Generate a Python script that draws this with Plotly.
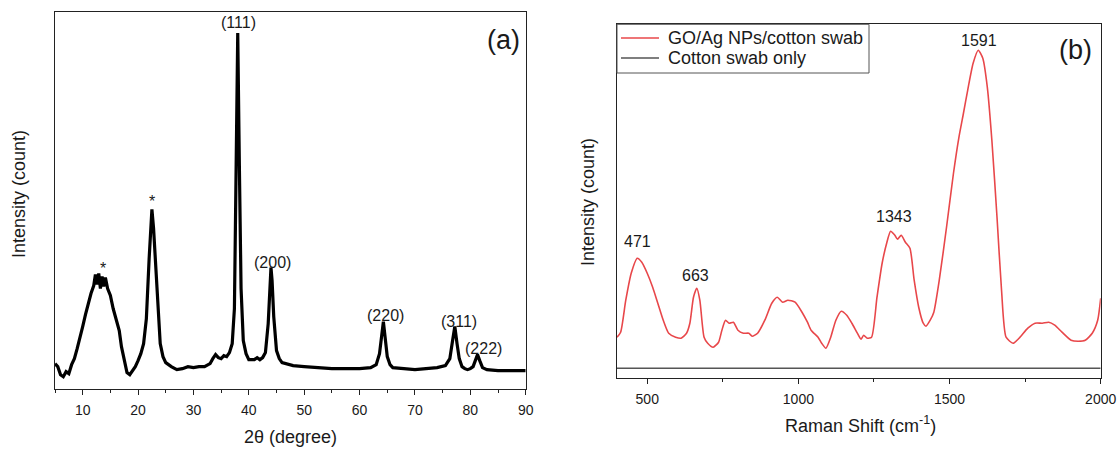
import plotly.graph_objects as go

W, H = 1117, 449

# ---------------- XRD data (panel a) ----------------
xrd_2theta = [5, 5.5, 6, 6.5, 7, 7.5, 8, 8.5, 9, 9.5, 10, 10.5, 11, 11.5, 12, 12.3, 12.6, 12.9, 13.2,
              13.5, 13.8, 14.1, 14.5, 15, 15.5, 16, 16.3, 16.6, 17, 17.5, 18, 18.5, 19, 19.5, 20,
              20.5, 21, 21.5, 22, 22.3, 22.5, 22.8, 23, 23.5, 24, 24.5, 25, 26, 27, 28, 29, 30, 31,
              32, 33, 33.5, 34, 34.5, 35, 35.5, 36, 36.5, 37, 37.4, 37.7, 38, 38.3, 38.6, 39, 39.5,
              40, 41, 41.5, 42, 42.5, 43, 43.5, 43.8, 44, 44.2, 44.5, 45, 45.5, 46, 48, 50, 52, 55,
              58, 60, 62, 63, 63.6, 64, 64.3, 64.6, 65, 65.5, 66, 68, 70, 72, 74, 75.5, 76.3, 76.8,
              77.2, 77.6, 78, 78.5, 79, 79.5, 80, 80.5, 81, 81.3, 81.7, 82.2, 83, 85, 87, 90]
xrd_intensity = [25, 22, 14, 12, 17, 15, 24, 30, 40, 50, 62, 74, 86, 95, 103, 114, 104, 115, 100,
                 112, 102, 111, 100, 93, 80, 70, 66, 58, 42, 28, 16, 14, 18, 22, 28,
                 35, 45, 70, 130, 168, 179, 160, 140, 85, 45, 32, 26, 22, 19, 20, 22, 21, 22,
                 22, 25, 30, 34, 31, 30, 33, 32, 36, 45, 80, 200, 355, 220, 100, 48, 35,
                 29, 29, 31, 29, 31, 36, 65, 105, 121, 108, 72, 38, 30, 26, 23, 22, 21, 20,
                 20, 20, 21, 24, 35, 55, 67, 52, 32, 24, 21, 20, 19, 20, 21, 23, 30, 48,
                 62, 45, 30, 22, 20, 19, 20, 22, 30, 34, 28, 21, 19, 18, 18, 18]

xrd_label_text = ["*", "*", "(111)", "(200)", "(220)", "(311)", "(222)"]
xrd_label_x = [13.7, 22.6, 38.2, 44.2, 64.7, 78.0, 82.4]
xrd_label_y = [120, 187, 366, 126, 73, 67, 40]

# ---------------- Raman data (panel b) ----------------
raman_shift = [400, 412, 429, 447, 467, 482, 500, 518, 535, 553, 571, 594, 612, 630, 641, 653, 664,
               674, 688, 700, 718, 736, 747, 759, 771, 785, 800, 818, 836, 847, 865, 889, 912, 930,
               948, 965, 989, 1012, 1030, 1042, 1065, 1077, 1091, 1107, 1124, 1142, 1160, 1177,
               1195, 1207, 1216, 1228, 1242, 1260, 1277, 1292, 1305, 1319, 1328, 1340, 1354, 1369,
               1383, 1398, 1413, 1422, 1436, 1448, 1466, 1490, 1513, 1531, 1546, 1560, 1578, 1595,
               1610, 1625, 1640, 1657, 1672, 1687, 1710, 1730, 1759, 1783, 1807, 1828, 1848, 1872,
               1902, 1925, 1949, 1972, 1990, 2000]
raman_go_ag = [41, 46, 78, 105, 120, 116, 105, 91, 75, 58, 45, 41, 40, 45, 55, 81, 90,
               78, 41, 35, 31, 36, 48, 58, 55, 56, 48, 45, 45, 42, 45, 58, 75, 81,
               76, 78, 76, 66, 56, 48, 41, 35, 30, 41, 58, 67, 63, 55,
               45, 39, 43, 40, 41, 81, 115, 135, 147, 143, 139, 143, 136, 130,
               98, 71, 55, 52, 58, 66, 98, 151, 205, 241, 265, 288, 315, 328,
               320, 291, 238, 161, 88, 41, 35, 40, 50, 55, 55, 56, 53, 46,
               38, 37, 38, 45, 58, 80]

cotton_shift = [400, 700, 1000, 1300, 1600, 2000]
cotton_only = [10, 10, 10, 10.5, 10, 10]

raman_label_text = ["471", "663", "1343", "1591"]
raman_label_x = [467, 659, 1316, 1597]
raman_label_y = [137, 103, 162, 338]

series_names = ["GO/Ag NPs/cotton swab", "Cotton swab only"]
series_colors = ["#e8474a", "#555555"]

FONT = "Liberation Sans, Arial, sans-serif"
TXT = "#1a1a1a"

fig = go.Figure()
fig.add_trace(go.Scatter(x=xrd_2theta, y=xrd_intensity, mode="lines",
                         line=dict(color="black", width=3.2), showlegend=False,
                         xaxis="x", yaxis="y"))
fig.add_trace(go.Scatter(x=raman_shift, y=raman_go_ag, mode="lines", name=series_names[0],
                         line=dict(color=series_colors[0], width=1.6, shape="spline", smoothing=0.6),
                         showlegend=False, xaxis="x2", yaxis="y2"))
fig.add_trace(go.Scatter(x=cotton_shift, y=cotton_only, mode="lines", name=series_names[1],
                         line=dict(color=series_colors[1], width=1.6),
                         showlegend=False, xaxis="x2", yaxis="y2"))

axis_common = dict(showline=True, linecolor="#222", linewidth=1.3, mirror=True,
                   showgrid=False, zeroline=False)

fig.update_layout(
    width=W, height=H,
    margin=dict(l=0, r=0, t=0, b=0),
    paper_bgcolor="white", plot_bgcolor="white",
    font=dict(family=FONT, color=TXT, size=14),
    showlegend=False,
    xaxis=dict(domain=[55 / W, 525.7 / W], range=[5, 90], tick0=0, dtick=10,
               ticks="outside", ticklen=5, tickwidth=1.2, tickcolor="#222",
               tickfont=dict(size=14, color=TXT), ticklabelstandoff=3,
               minor=dict(dtick=5, ticks="outside", ticklen=3, tickcolor="#222", tickwidth=1.2),
               anchor="y", automargin=False, **axis_common),
    yaxis=dict(domain=[1 - 388.7 / H, 1 - 12 / H], range=[0, 376], showticklabels=False,
               ticks="", anchor="x", automargin=False, **axis_common),
    xaxis2=dict(domain=[617 / W, 1100.7 / W], range=[400, 2000], tick0=0, dtick=500,
                ticks="outside", ticklen=5, tickwidth=1.2, tickcolor="#222",
                tickfont=dict(size=14, color=TXT), ticklabelstandoff=3,
                minor=dict(dtick=250, ticks="outside", ticklen=3, tickcolor="#222", tickwidth=1.2),
                anchor="y2", automargin=False, **axis_common),
    yaxis2=dict(domain=[1 - 378.2 / H, 1 - 24.3 / H], range=[0, 354], showticklabels=False,
                ticks="", anchor="x2", automargin=False, **axis_common),
)

ann = []
for t, x, y in zip(xrd_label_text, xrd_label_x, xrd_label_y):
    ann.append(dict(x=x, y=y, xref="x", yref="y", text=t, showarrow=False,
                    font=dict(size=16, color=TXT), xanchor="center", yanchor="middle"))
for t, x, y in zip(raman_label_text, raman_label_x, raman_label_y):
    ann.append(dict(x=x, y=y, xref="x2", yref="y2", text=t, showarrow=False,
                    font=dict(size=16, color=TXT), xanchor="center", yanchor="middle"))
ann.append(dict(x=86.0, y=348, xref="x", yref="y", text="(a)", showarrow=False,
                font=dict(size=27, color=TXT), xanchor="center", yanchor="middle"))
ann.append(dict(x=1917, y=328, xref="x2", yref="y2", text="(b)", showarrow=False,
                font=dict(size=27, color=TXT), xanchor="center", yanchor="middle"))
# axis titles
ann.append(dict(x=290 / W, y=1 - 437 / H, xref="paper", yref="paper", text="2θ (degree)",
                showarrow=False, font=dict(size=18, color=TXT), xanchor="center", yanchor="middle"))
ann.append(dict(x=19 / W, y=1 - 194 / H, xref="paper", yref="paper", text="Intensity (count)",
                showarrow=False, textangle=-90, font=dict(size=18, color=TXT),
                xanchor="center", yanchor="middle"))
ann.append(dict(x=860 / W, y=1 - 424 / H, xref="paper", yref="paper",
                text="Raman Shift (cm<sup>-1</sup>)", showarrow=False, font=dict(size=18, color=TXT),
                xanchor="center", yanchor="middle"))
ann.append(dict(x=588 / W, y=1 - 202 / H, xref="paper", yref="paper", text="Intensity (count)",
                showarrow=False, textangle=-90, font=dict(size=18, color=TXT),
                xanchor="center", yanchor="middle"))

# legend box drawn in panel (b)
shapes = [dict(type="rect", xref="paper", yref="paper", x0=617 / W, x1=869 / W,
               y0=1 - 73 / H, y1=1 - 24.3 / H, line=dict(color="#555", width=1),
               fillcolor="white", layer="above")]
leg_y = [38, 58]
for name, col, yy in zip(series_names, series_colors, leg_y):
    shapes.append(dict(type="line", xref="paper", yref="paper", x0=621 / W, x1=659 / W,
                       y0=1 - yy / H, y1=1 - yy / H, line=dict(color=col, width=1.6), layer="above"))
    ann.append(dict(x=666 / W, y=1 - yy / H, xref="paper", yref="paper", text=name,
                    showarrow=False, font=dict(size=18, color=TXT),
                    xanchor="left", yanchor="middle"))
fig.update_layout(annotations=ann, shapes=shapes)

fig.write_html("out.html")
